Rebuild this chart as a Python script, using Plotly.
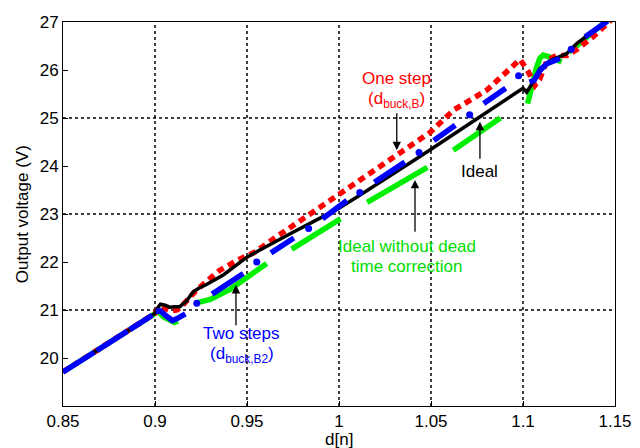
import plotly.graph_objects as go

# ---------------- data ----------------
# Ideal (black)
ideal_d = [0.85, 0.862, 0.875, 0.888, 0.9, 0.9015, 0.903, 0.9055, 0.908, 0.911, 0.9135, 0.917, 0.9208,
           0.924, 0.928, 0.9371, 0.944, 0.95, 0.957, 0.965, 0.975, 0.985, 0.993, 1.0, 1.01, 1.02, 1.03,
           1.04, 1.05, 1.06, 1.07, 1.08, 1.09, 1.1, 1.102, 1.1056, 1.1092, 1.1147, 1.1192, 1.1237,
           1.1292, 1.1364, 1.143, 1.15]
ideal_v = [19.71, 20.0, 20.32, 20.63, 20.93, 21.05, 21.12, 21.1, 21.06, 21.07, 21.07, 21.18, 21.38,
           21.46, 21.53, 21.73, 21.93, 22.1, 22.25, 22.42, 22.62, 22.82, 22.98, 23.12, 23.36, 23.6, 23.85,
           24.1, 24.35, 24.6, 24.86, 25.1, 25.36, 25.62, 25.54, 25.75, 26.03, 26.2, 26.27, 26.34,
           26.55, 26.76, 26.96, 27.15]

# One step (red, dotted)
one_d = [0.85, 0.9, 0.9025, 0.905, 0.9085, 0.912, 0.915, 0.9227, 0.9353, 0.944, 0.955, 0.9643, 0.9842,
         1.0005, 1.0114, 1.0314, 1.0495, 1.0621, 1.0803, 1.0984, 1.1029, 1.1065, 1.109, 1.113, 1.118,
         1.1237, 1.129, 1.138, 1.15]
one_v = [19.71, 20.93, 21.08, 21.05, 20.98, 21.0, 21.1, 21.42, 21.83, 22.02, 22.22, 22.48, 23.0,
         23.42, 23.7, 24.25, 24.7, 25.16, 25.58, 26.22, 25.96, 25.68, 25.8, 26.2, 26.3,
         26.3, 26.42, 26.69, 27.12]

# Two steps (blue) - segments separated by None
two_d = [0.85, 0.867, None, 0.8683, 0.885, None, 0.8863, 0.8985, None,
         0.9005, 0.903, 0.906, 0.9095, 0.912, 0.9165, None,
         0.931, 0.948, None, 0.963, 0.9755, None, 0.991, 1.0043, None,
         1.0192, 1.0358, None, 1.0515, 1.0632, None, 1.0786, 1.0906, None,
         1.1035, 1.106, 1.1092, 1.1129, 1.1174, 1.12, None, 1.1337, 1.146]
two_v = [19.71, 20.12, None, 20.15, 20.56, None, 20.59, 20.89, None,
         20.97, 20.98, 20.88, 20.78, 20.82, 20.92, None,
         21.33, 21.76, None, 22.19, 22.5, None, 22.9, 23.28, None,
         23.66, 24.08, None, 24.53, 24.85, None, 25.3, 25.62, None,
         25.75, 25.78, 25.99, 26.13, 26.2, 26.24, None, 26.69, 27.02]
# Two steps isolated points
two_pts_d = [0.9227, 0.9553, 0.9835, 1.0113, 1.0435, 1.071, 1.0976, 1.1262]
two_pts_v = [21.14, 22.0, 22.7, 23.45, 24.28, 25.07, 25.88, 26.43]

# Ideal without dead time correction (green)
nodt_d = [0.85, 0.875, 0.9, 0.9018, 0.9045, 0.9075, 0.9105, 0.9125, None,
          0.9225, 0.93, 0.9408, 0.9607, None, 0.9743, 1.0008, None, 1.0153, 1.048, None,
          1.0621, 1.0877, None,
          1.1025, 1.105, 1.1074, 1.1092, 1.111, 1.1147, 1.1183, 1.121, None, 1.125, 1.15]
nodt_v = [19.71, 20.32, 20.93, 20.97, 20.86, 20.79, 20.74, 20.77, None,
          21.15, 21.22, 21.43, 21.97, None, 22.27, 22.9, None, 23.24, 23.97, None,
          24.33, 25.0, None,
          25.3, 25.72, 26.06, 26.25, 26.31, 26.27, 26.2, 26.17, None, 26.37, 27.17]

x_ticks = [0.85, 0.9, 0.95, 1.0, 1.05, 1.1, 1.15]
x_tick_text = ["0.85", "0.9", "0.95", "1", "1.05", "1.1", "1.15"]
y_ticks = [20, 21, 22, 23, 24, 25, 26, 27]
grid_x = [0.9, 0.95, 1.0, 1.05, 1.1]
grid_y = [21, 23, 25]

FONT = "Arial, Liberation Sans, sans-serif"
RED = "#FF0000"
BLUE = "#0000FF"
GREEN = "#00EE00"

fig = go.Figure()
fig.add_trace(go.Scatter(x=nodt_d, y=nodt_v, mode="lines", connectgaps=False,
                         line=dict(color=GREEN, width=5.5), name="Ideal without dead time correction"))
fig.add_trace(go.Scatter(x=one_d, y=one_v, mode="lines",
                         line=dict(color=RED, width=5.5, dash="7px,5px"), name="One step"))
fig.add_trace(go.Scatter(x=ideal_d, y=ideal_v, mode="lines",
                         line=dict(color="black", width=3.5), name="Ideal"))
fig.add_trace(go.Scatter(x=two_d, y=two_v, mode="lines", connectgaps=False,
                         line=dict(color=BLUE, width=5.5), name="Two steps"))
fig.add_trace(go.Scatter(x=two_pts_d, y=two_pts_v, mode="markers",
                         marker=dict(color=BLUE, size=7), name="Two steps pts"))

# dotted grid lines
for gx in grid_x:
    fig.add_shape(type="line", xref="x", yref="paper", x0=gx, x1=gx, y0=0, y1=1,
                  line=dict(color="black", width=1.5, dash="dot"), layer="below")
for gy in grid_y:
    fig.add_shape(type="line", xref="paper", yref="y", x0=0, x1=1, y0=gy, y1=gy,
                  line=dict(color="black", width=1.5, dash="dot"), layer="below")

def label(x, y, text, color):
    fig.add_annotation(x=x, y=y, xref="x", yref="y", text=text, showarrow=False,
                       font=dict(family=FONT, size=17, color=color), xanchor="center", yanchor="middle")

def arrow(x, y_head, y_tail):
    fig.add_annotation(x=x, y=y_head, ax=x, ay=y_tail, xref="x", yref="y", axref="x", ayref="y",
                       text="", showarrow=True, arrowhead=2, arrowsize=1.3, arrowwidth=1.3,
                       arrowcolor="black", standoff=0, startstandoff=0)

label(1.0314, 25.82, "One step", RED)
label(1.0314, 25.37, "(d<sub>buck,B</sub>)", RED)
arrow(1.0314, 24.33, 25.13)

label(1.0766, 23.88, "Ideal", "black")
arrow(1.0766, 24.92, 24.12)

label(1.0368, 22.32, "Ideal without dead", "#00DD00")
label(1.0368, 21.90, "time correction", "#00DD00")
arrow(1.0413, 23.71, 22.6)

label(0.9471, 20.52, "Two steps", BLUE)
label(0.9471, 20.06, "(d<sub>buck,B2</sub>)", BLUE)
arrow(0.9440, 21.52, 20.65)

# axis titles
fig.add_annotation(x=0.5, y=-0.088, xref="paper", yref="paper", text="d[n]", showarrow=False,
                   font=dict(family=FONT, size=17, color="black"), xanchor="center", yanchor="middle")
fig.add_annotation(x=-0.074, y=0.5, xref="paper", yref="paper", text="Output voltage (V)",
                   textangle=-90, showarrow=False,
                   font=dict(family=FONT, size=17, color="black"), xanchor="center", yanchor="middle")

fig.update_layout(
    width=640, height=448,
    margin=dict(l=63, r=25, t=22, b=42),
    paper_bgcolor="white", plot_bgcolor="white",
    showlegend=False,
    font=dict(family=FONT, size=17, color="black"),
)
fig.update_xaxes(range=[0.85, 1.15], tickvals=x_ticks, ticktext=x_tick_text, automargin=False,
                 showgrid=False, zeroline=False, showline=True, mirror=True,
                 linecolor="black", linewidth=1, ticks="inside", ticklen=5, tickcolor="black",
                 tickfont=dict(size=17))
fig.update_yaxes(range=[19, 27], tickvals=y_ticks, automargin=False,
                 showgrid=False, zeroline=False, showline=True, mirror=True,
                 linecolor="black", linewidth=1, ticks="inside", ticklen=5, tickcolor="black",
                 tickfont=dict(size=17))

fig.write_html("out.html")
